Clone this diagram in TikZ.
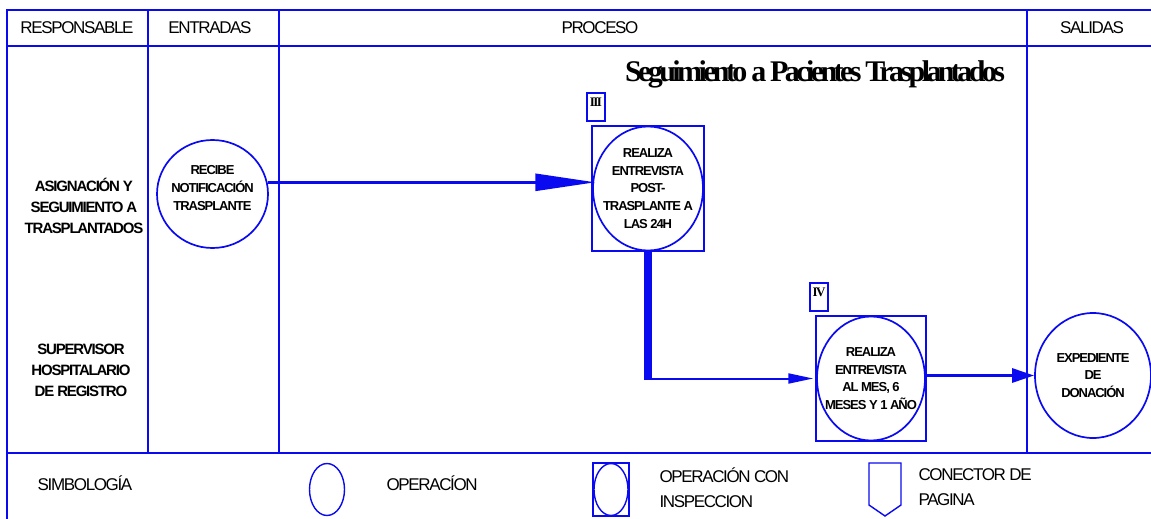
\documentclass[tikz,border=0pt]{standalone}
\usepackage{fontspec}
\setmainfont{Liberation Sans}[LetterSpace=-8]
\newfontfamily\titulofont{Liberation Serif}[LetterSpace=-12]
\usepackage{tikz}
\usetikzlibrary{arrows.meta,shapes.geometric,positioning}
\definecolor{azulLinea}{HTML}{0A0AF0}

\begin{document}
\begin{tikzpicture}[x=1pt,y=-1pt,
  operacion/.style={draw=azulLinea,line width=1.7pt,ellipse,inner sep=0pt},
  inspeccion/.style={draw=azulLinea,line width=1.5pt,rectangle,inner sep=0pt,align=center,font=\bfseries\fontsize{13}{17.8}\selectfont},
  textoNodo/.style={align=center,font=\bfseries\fontsize{13}{17.8}\selectfont},
  carril/.style={align=center,font=\bfseries\fontsize{15}{21}\selectfont},
  cabecera/.style={font=\fontsize{17}{20}\selectfont},
  leyenda/.style={align=left,font=\fontsize{17}{25}\selectfont},
  etiqueta/.style={draw=azulLinea,line width=1.4pt,inner sep=2pt,minimum width=18pt,text height=11pt,text depth=13pt,font=\titulofont\bfseries\fontsize{13}{13}\selectfont}]
\useasboundingbox (0,0) rectangle (1151,519);
\draw[azulLinea,line width=2pt] (7,530)--(7,10)--(1160,10);
\draw[azulLinea,line width=2.6pt] (7,46)--(1160,46);
\draw[azulLinea,line width=2.2pt] (7,453)--(1160,453);
\foreach \x in {148,279,1027} \draw[azulLinea,line width=1.2pt] (\x,10)--(\x,453);
\node[cabecera] (hResp) at (77,28) {RESPONSABLE};
\node[cabecera] (hEnt) at (210,28) {ENTRADAS};
\node[cabecera] (hProc) at (600,28) {PROCESO};
\node[cabecera] (hSal) at (1092,28) {SALIDAS};
\node[font=\titulofont\bfseries\fontsize{30}{32}\selectfont] (titulo) at (815,74) {Seguimiento a Pacientes Trasplantados};
\node[carril] (asignacion) at (84,206) {ASIGNACIÓN Y\\SEGUIMIENTO A\\TRASPLANTADOS};
\node[carril] (supervisor) at (81,370) {SUPERVISOR\\HOSPITALARIO\\DE REGISTRO};
\node[operacion,minimum width=111pt,minimum height=108pt] (recibe) at (212.5,194) {};
\node[textoNodo] (txtRecibe) at (212.5,188) {RECIBE\\NOTIFICACIÓN\\TRASPLANTE};
\node[inspeccion,minimum width=112pt,minimum height=125pt] (realiza1) at (648,188.5) {REALIZA\\ENTREVISTA\\POST-\\TRASPLANTE A\\LAS 24H};
\node[operacion,minimum width=110pt,minimum height=124pt] (circ1) at (realiza1.center) {};
\node[etiqueta] (etIII) at (596,107) {III};
\node[inspeccion,minimum width=110pt,minimum height=125pt] (realiza2) at (871,378.5) {REALIZA\\ENTREVISTA\\AL MES, 6\\MESES Y 1 AÑO};
\node[operacion,minimum width=108pt,minimum height=124pt] (circ2) at (realiza2.center) {};
\node[etiqueta] (etIV) at (819,297) {IV};
\node[operacion,minimum width=116pt,minimum height=125pt,textoNodo] (expediente) at (1093,375.5) {EXPEDIENTE\\DE\\DONACIÓN};
\coordinate (esquina) at (realiza1.south |- realiza2.west);
\draw[azulLinea,line width=2.6pt,-{Triangle[length=60pt,width=17pt]},shorten >=-4pt] (recibe.12)--(recibe.12 -| realiza1.west);
\draw[azulLinea,line width=8pt] (realiza1.south)--([yshift=1pt]esquina);
\draw[azulLinea,line width=2pt,-{Triangle[length=25pt,width=10pt]},shorten >=2pt] ([xshift=-4pt]esquina)--(realiza2.west);
\draw[azulLinea,line width=2.8pt,-{Triangle[length=22pt,width=14pt]}] (realiza2.east |- expediente.west)--(expediente.west);
\node[leyenda] (simbologia) at (85,483) {SIMBOLOGÍA};
\node[operacion,line width=1.4pt,minimum width=35pt,minimum height=52pt] (legOp) at (327,489.5) {};
\node[leyenda,anchor=west] (txtOp) at (383,483) {OPERACÍON};
\node[inspeccion,line width=1.4pt,minimum width=36pt,minimum height=53pt] (legInsp) at (611,489.5) {};
\node[operacion,line width=1.4pt,minimum width=34pt,minimum height=52pt] (legInspC) at (legInsp.center) {};
\node[leyenda,anchor=west] (txtInsp) at (656,487.5) {OPERACIÓN CON\\INSPECCION};
\draw[azulLinea,line width=1.4pt] (869,463)--(901,463)--(901,505)--(885,516)--(869,505)--cycle;
\node[leyenda,anchor=west] (txtCon) at (915,487.5) {CONECTOR DE\\PAGINA};
\end{tikzpicture}
\end{document}
